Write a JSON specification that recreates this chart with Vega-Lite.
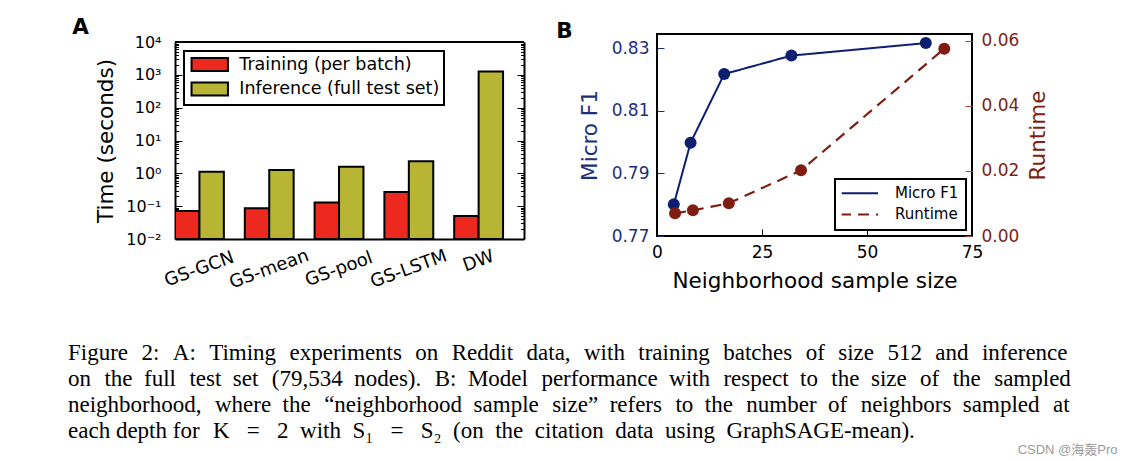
{
  "$schema": "https://vega.github.io/schema/vega-lite/v6.json",
  "background": "white",
  "padding": {"left": 68, "top": 16, "right": 0, "bottom": 0},
  "autosize": {"type": "pad"},
  "config": {
    "view": {"stroke": "black", "strokeWidth": 2},
    "font": "DejaVu Sans",
    "axis": {"labelFont": "DejaVu Sans", "titleFont": "DejaVu Sans", "labelColor": "black", "titleColor": "black", "grid": false, "domain": false, "titleFontWeight": "normal", "labelFontSize": 17, "titleFontSize": 21.5, "tickColor": "black", "tickWidth": 1, "labelOverlap": false},
    "legend": {"labelFont": "DejaVu Sans", "labelColor": "black", "strokeWidth": 2},
    "title": {"font": "DejaVu Sans", "fontWeight": "bold", "color": "black"}
  },
  "spacing": 47,
  "bounds": "full",
  "resolve": {"scale": {"color": "independent", "strokeDash": "independent", "fill": "independent"}, "legend": {"color": "independent", "strokeDash": "independent", "fill": "independent"}},
  "vconcat": [
    {
      "spacing": 30,
      "bounds": "full",
      "resolve": {"scale": {"color": "independent", "strokeDash": "independent", "fill": "independent"}, "legend": {"color": "independent", "strokeDash": "independent", "fill": "independent"}},
      "hconcat": [
        {
          "width": 349,
          "height": 205,
          "view": {"stroke": null},
          "title": {"text": "A", "anchor": "start", "frame": "bounds", "dx": -23.2, "offset": -4, "fontSize": 21.5},
          "data": {"values": [
            {"model": "GS-GCN", "kind": "Training (per batch)", "time": 0.071},
            {"model": "GS-GCN", "kind": "Inference (full test set)", "time": 1.12},
            {"model": "GS-mean", "kind": "Training (per batch)", "time": 0.086},
            {"model": "GS-mean", "kind": "Inference (full test set)", "time": 1.27},
            {"model": "GS-pool", "kind": "Training (per batch)", "time": 0.13},
            {"model": "GS-pool", "kind": "Inference (full test set)", "time": 1.6},
            {"model": "GS-LSTM", "kind": "Training (per batch)", "time": 0.27},
            {"model": "GS-LSTM", "kind": "Inference (full test set)", "time": 2.34},
            {"model": "DW", "kind": "Training (per batch)", "time": 0.05},
            {"model": "DW", "kind": "Inference (full test set)", "time": 1260}
          ]},
          "resolve": {"axis": {"y": "independent"}},
          "layer": [
            {
              "mark": {"type": "bar", "stroke": "black", "strokeWidth": 2, "clip": true},
              "encoding": {
                "x": {
                  "field": "model", "type": "nominal",
                  "sort": ["GS-GCN", "GS-mean", "GS-pool", "GS-LSTM", "DW"],
                  "scale": {"paddingInner": 0.3, "paddingOuter": 0.15, "align": 0},
                  "axis": {"title": null, "ticks": false, "domain": true, "domainColor": "black", "domainWidth": 2, "labelAngle": -20, "labelAlign": "center", "labelBaseline": "middle", "labelFontSize": 18,
                           "labelPadding": {"condition": {"test": "datum.value === 'DW'", "value": 22}, "value": 30}}
                },
                "xOffset": {"field": "kind", "type": "nominal", "sort": ["Training (per batch)", "Inference (full test set)"], "scale": {"paddingInner": 0, "paddingOuter": 0}},
                "y": {
                  "field": "time", "type": "quantitative", "stack": null,
                  "scale": {"type": "log", "domain": [0.01, 10000], "range": [205, 8]},
                  "axis": {
                    "orient": "left",
                    "values": [0.01, 0.02, 0.03, 0.04, 0.05, 0.06, 0.07, 0.08, 0.09, 0.1, 0.2, 0.3, 0.4, 0.5, 0.6, 0.7, 0.8, 0.9, 1, 2, 3, 4, 5, 6, 7, 8, 9, 10, 20, 30, 40, 50, 60, 70, 80, 90, 100, 200, 300, 400, 500, 600, 700, 800, 900, 1000, 2000, 3000, 4000, 5000, 6000, 7000, 8000, 9000, 10000],
                    "labelExpr": "datum.value == 0.01 ? '10⁻²' : datum.value == 0.1 ? '10⁻¹' : datum.value == 1 ? '10⁰' : datum.value == 10 ? '10¹' : datum.value == 100 ? '10²' : datum.value == 1000 ? '10³' : datum.value == 10000 ? '10⁴' : ''",
                    "tickSize": {"condition": {"test": "abs(log(datum.value)/LN10 - round(log(datum.value)/LN10)) < 0.001", "value": -7}, "value": -3.5},
                    "domain": true, "domainColor": "black", "domainWidth": 2,
                    "labelFontSize": 16,
                    "labelPadding": 21,
                    "title": "Time (seconds)",
                    "titleX": -62.6,
                    "titleY": 106.5,
                    "titleBaseline": "alphabetic"
                  }
                },
                "fill": {
                  "field": "kind", "type": "nominal",
                  "scale": {"domain": ["Training (per batch)", "Inference (full test set)"], "range": ["#ed291f", "#b8b535"]},
                  "legend": {"orient": "none", "legendX": 9, "legendY": 17, "title": null, "symbolType": "M-2.8,-1H2.8V1H-2.8Z", "symbolSize": 169, "symbolStrokeColor": "black", "symbolStrokeWidth": 2, "symbolOffset": 12.25, "labelOffset": 20.8, "labelFontSize": 17.5, "labelLimit": 400, "strokeColor": "black", "fillColor": "white", "padding": 4.75, "rowPadding": 2.5, "cornerRadius": 0}
                }
              }
            },
            {
              "mark": {"type": "rule", "opacity": 0},
              "encoding": {
                "y": {
                  "field": "time", "type": "quantitative",
                  "scale": {"type": "log", "domain": [0.01, 10000], "range": [205, 8]},
                  "axis": {
                    "orient": "right",
                    "values": [0.01, 0.02, 0.03, 0.04, 0.05, 0.06, 0.07, 0.08, 0.09, 0.1, 0.2, 0.3, 0.4, 0.5, 0.6, 0.7, 0.8, 0.9, 1, 2, 3, 4, 5, 6, 7, 8, 9, 10, 20, 30, 40, 50, 60, 70, 80, 90, 100, 200, 300, 400, 500, 600, 700, 800, 900, 1000, 2000, 3000, 4000, 5000, 6000, 7000, 8000, 9000, 10000],
                    "labels": false,
                    "domain": true, "domainColor": "black", "domainWidth": 2,
                    "tickSize": {"condition": {"test": "abs(log(datum.value)/LN10 - round(log(datum.value)/LN10)) < 0.001", "value": -7}, "value": -3.5},
                    "title": null
                  }
                }
              }
            },
            {
              "mark": {"type": "rule", "color": "black", "strokeWidth": 2},
              "encoding": {
                "y": {"datum": 10000, "type": "quantitative", "scale": {"type": "log", "domain": [0.01, 10000], "range": [205, 8]}, "axis": null}
              }
            }
          ]
        },
        {
          "width": 315,
          "height": 202,
          "title": {"text": "B", "anchor": "start", "frame": "bounds", "dx": -23.3, "offset": -11, "fontSize": 21.5},
          "data": {"values": [
            {"series": "Micro F1", "size": 4, "value": 0.7801},
            {"series": "Micro F1", "size": 8, "value": 0.7998},
            {"series": "Micro F1", "size": 16, "value": 0.8217},
            {"series": "Micro F1", "size": 32, "value": 0.8276},
            {"series": "Micro F1", "size": 64, "value": 0.8316},
            {"series": "Runtime", "size": 4.3, "value": 0.00697},
            {"series": "Runtime", "size": 8.55, "value": 0.00789},
            {"series": "Runtime", "size": 17.1, "value": 0.01004},
            {"series": "Runtime", "size": 34.3, "value": 0.02017},
            {"series": "Runtime", "size": 68.4, "value": 0.0575}
          ]},
          "resolve": {"scale": {"y": "independent"}},
          "layer": [
            {
              "transform": [{"filter": "datum.series === 'Micro F1'"}],
              "mark": {"type": "line", "strokeWidth": 2, "point": {"filled": true, "size": 144, "opacity": 1}},
              "encoding": {
                "x": {"field": "size", "type": "quantitative", "scale": {"domain": [0, 75], "nice": false},
                      "axis": {"values": [0, 25, 50, 75], "tickSize": -7, "labelPadding": 15.3, "labelFlush": false, "title": "Neighborhood sample size", "titleY": 51.7, "titleBaseline": "alphabetic"}},
                "y": {"field": "value", "type": "quantitative", "scale": {"domain": [0.77, 0.8345], "zero": false, "nice": false},
                      "axis": {"orient": "left", "values": [0.77, 0.79, 0.81, 0.83], "format": ".2f", "labelColor": "#1c2f7d", "tickColor": "#1c2f7d", "tickSize": -7, "labelPadding": 15, "title": "Micro F1", "titleColor": "#1c2f7d", "titleX": -60.5, "titleBaseline": "alphabetic"}},
                "color": {"field": "series", "type": "nominal",
                          "scale": {"domain": ["Micro F1", "Runtime"], "range": ["#0c1f70", "#7f1d12"]},
                          "legend": {"orient": "bottom-right", "offset": 6, "title": null, "symbolType": "stroke", "symbolSize": 1444, "symbolStrokeWidth": 2, "symbolOffset": -2.7, "labelOffset": 16, "labelFontSize": 15, "labelLimit": 300, "strokeColor": "black", "fillColor": "white", "padding": 6.7, "rowPadding": 5.2, "cornerRadius": 0, "clipHeight": 15}},
                "strokeDash": {"field": "series", "type": "nominal", "scale": {"domain": ["Micro F1", "Runtime"], "range": [[1, 0], [11, 7]]},
                          "legend": {"orient": "bottom-right", "offset": 6, "title": null, "symbolType": "stroke", "symbolSize": 1444, "symbolStrokeWidth": 2, "symbolOffset": -2.7, "labelOffset": 16, "labelFontSize": 15, "labelLimit": 300, "strokeColor": "black", "fillColor": "white", "padding": 6.7, "rowPadding": 5.2, "cornerRadius": 0, "clipHeight": 15}}
              }
            },
            {
              "transform": [{"filter": "datum.series === 'Runtime'"}],
              "mark": {"type": "line", "strokeWidth": 2.2, "point": {"filled": true, "size": 144, "opacity": 1}},
              "encoding": {
                "x": {"field": "size", "type": "quantitative", "scale": {"domain": [0, 75], "nice": false}},
                "y": {"field": "value", "type": "quantitative", "scale": {"domain": [0, 0.062], "nice": false},
                      "axis": {"orient": "right", "values": [0, 0.02, 0.04, 0.06], "format": ".2f", "labelColor": "#7d1f14", "tickColor": "#a04a40", "tickSize": -7, "labelPadding": 16, "title": "Runtime", "titleColor": "#7d1f14", "titleAngle": -90, "titleX": 72.5, "titleBaseline": "alphabetic"}},
                "color": {"field": "series", "type": "nominal",
                          "legend": {"orient": "bottom-right", "offset": 6, "title": null, "symbolType": "stroke", "symbolSize": 1444, "symbolStrokeWidth": 2, "symbolOffset": -2.7, "labelOffset": 16, "labelFontSize": 15, "labelLimit": 300, "strokeColor": "black", "fillColor": "white", "padding": 6.7, "rowPadding": 5.2, "cornerRadius": 0, "clipHeight": 15}},
                "strokeDash": {"field": "series", "type": "nominal",
                          "legend": {"orient": "bottom-right", "offset": 6, "title": null, "symbolType": "stroke", "symbolSize": 1444, "symbolStrokeWidth": 2, "symbolOffset": -2.7, "labelOffset": 16, "labelFontSize": 15, "labelLimit": 300, "strokeColor": "black", "fillColor": "white", "padding": 6.7, "rowPadding": 5.2, "cornerRadius": 0, "clipHeight": 15}}
              }
            }
          ]
        }
      ]
    },
    {
      "width": 942,
      "height": 1,
      "view": {"stroke": null},
      "title": {
        "text": [
          "Figure \u20042: \u2004A: \u2004Timing \u2004experiments \u2004on \u2004Reddit \u2004data, \u2004with \u2004training \u2004batches \u2004of \u2004size \u2004512 \u2004and \u2004inference",
          "on \u2004the \u2005full \u2004test \u2005set \u2004(79,534 \u2005nodes). \u2004B: \u2005Model \u2004performance \u2005with \u2004respect \u2005to \u2004the \u2005size \u2004of \u2004the \u2004sampled",
          "neighborhood, \u2004where \u2005the \u2004“neighborhood \u2005sample \u2004size” \u2005refers \u2004to \u2005the \u2004number \u2005of \u2004neighbors \u2005sampled \u2004at",
          "each depth for \u2004K \u2002= \u20022 \u2005with \u2005S₁ \u2002= \u2002S₂ \u2005(on \u2005the \u2005citation \u2005data \u2005using \u2005GraphSAGE-mean)."
        ],
        "anchor": "start", "frame": "group", "orient": "top", "dx": -107,
        "font": "Liberation Serif", "fontSize": 23, "fontWeight": "normal", "lineHeight": 26.3, "color": "black", "offset": 0
      },
      "data": {"values": [{"v": 0}]},
      "mark": {"type": "point", "opacity": 0},
      "encoding": {
        "x": {"field": "v", "type": "quantitative",
              "axis": {"title": "CSDN @海轰Pro", "titleAnchor": "end", "labels": false, "ticks": false, "domain": false, "grid": false, "titleFont": "Liberation Sans, Noto Sans CJK SC", "titleFontSize": 13, "titleFontWeight": "normal", "titleColor": "#9a9a9a", "titleBaseline": "alphabetic", "titleY": 4.4}}
      }
    }
  ]
}
